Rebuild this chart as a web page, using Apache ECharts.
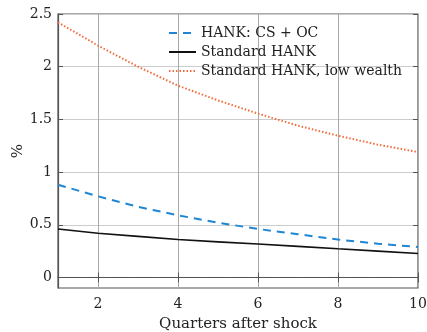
<!DOCTYPE html>
<html><head><meta charset="utf-8">
<script src="https://cdn.jsdelivr.net/npm/echarts@6/dist/echarts.min.js"></script>
<style>html,body{margin:0;padding:0;background:#fff}#c{width:427px;height:332px}</style>
</head><body><div id="c"></div>
<script>
const quarters = [1,2,3,4,5,6,7,8,9,10];
const hankCsOc = [0.88,0.77,0.67,0.59,0.52,0.46,0.41,0.36,0.32,0.29];
const standardHank = [0.46,0.42,0.39,0.36,0.338,0.317,0.295,0.272,0.25,0.228];
const lowWealth = [2.42,2.20,2.00,1.82,1.68,1.555,1.44,1.345,1.26,1.19];
const zeroLine = [0,0,0,0,0,0,0,0,0,0];
const names = ['HANK: CS + OC','Standard HANK','Standard HANK, low wealth'];
const xTicks = [2,4,6,8,10];
const yTicks = [0,0.5,1,1.5,2,2.5];

const font = 'DejaVu Serif';
const pair = a => quarters.map((q,i)=>[q,a[i]]);
const chart = echarts.init(document.getElementById('c'));
const tickCol = '#555';
chart.setOption({
  animation:false,
  grid:{left:58,right:9,top:14,bottom:44,show:true,borderColor:'#555',borderWidth:1.2,
    containLabel:false, outerBoundsMode:'none'},
  legend:{
    data:names, orient:'vertical', left:163, top:21, itemWidth:27, itemHeight:10, itemGap:5,
    itemStyle:{opacity:0},
    textStyle:{fontFamily:font,fontSize:14,color:'#222'}, backgroundColor:'transparent'
  },
  xAxis:[{
    type:'value', min:1, max:10,
    name:'Quarters after shock', nameLocation:'middle', nameGap:29,
    nameTextStyle:{fontFamily:font,fontSize:15,color:'#222'},
    axisLine:{show:true,lineStyle:{color:'#555',width:1.2}},
    axisTick:{show:true,inside:true,length:5,customValues:xTicks,lineStyle:{color:tickCol}},
    axisLabel:{fontFamily:font,fontSize:14,color:'#222',margin:9,customValues:xTicks},
    splitLine:{show:true,lineStyle:{color:'#aaa',width:1}}
  },{
    type:'value', min:1, max:10, position:'top',
    axisLine:{show:false}, axisLabel:{show:false},
    axisTick:{show:true,inside:true,length:5,customValues:xTicks,lineStyle:{color:tickCol}},
    splitLine:{show:false}
  }],
  yAxis:[{
    type:'value', min:-0.1, max:2.5,
    name:'%', nameLocation:'middle', nameGap:32, nameRotate:90, nameMoveOverlap:false,
    nameTextStyle:{fontFamily:font,fontSize:15,color:'#222'},
    axisLine:{show:true,lineStyle:{color:'#555',width:1.2}},
    axisTick:{show:true,inside:true,length:5,customValues:yTicks,lineStyle:{color:tickCol}},
    axisLabel:{fontFamily:font,fontSize:14,color:'#222',margin:6,customValues:yTicks},
    splitLine:{show:true,lineStyle:{color:'#ccc',width:1}}
  },{
    type:'value', min:-0.1, max:2.5, position:'right',
    axisLine:{show:false}, axisLabel:{show:false},
    axisTick:{show:true,inside:true,length:5,customValues:yTicks,lineStyle:{color:tickCol}},
    splitLine:{show:false}
  }],
  series:[
    {name:'zero',type:'line',data:pair(zeroLine),symbol:'none',silent:true,
      lineStyle:{color:'#555',width:1,type:[1,2]}},
    {name:names[0],type:'line',data:pair(hankCsOc),symbol:'none',
      lineStyle:{color:'#1f86d4',width:2,type:[8,6]},itemStyle:{color:'#1f86d4'}},
    {name:names[1],type:'line',data:pair(standardHank),symbol:'none',
      lineStyle:{color:'#111',width:1.6},itemStyle:{color:'#111'}},
    {name:names[2],type:'line',data:pair(lowWealth),symbol:'none',
      lineStyle:{color:'#f26b3a',width:2,type:[1.5,2]},itemStyle:{color:'#f26b3a'}}
  ]
});
</script></body></html>
